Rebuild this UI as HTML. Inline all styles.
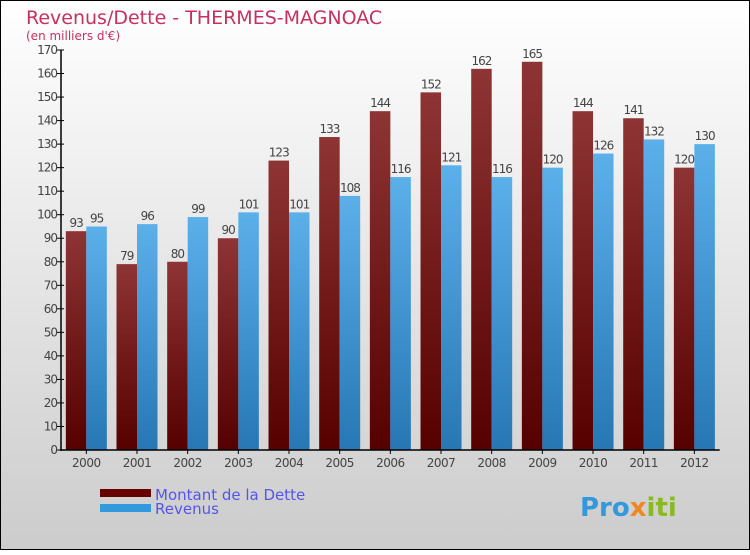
<!DOCTYPE html>
<html><head><meta charset="utf-8"><style>
body{margin:0}
svg text{font-family:"DejaVu Sans","Liberation Sans",sans-serif}
</style></head><body>
<svg id="c" width="750" height="550" xmlns="http://www.w3.org/2000/svg">
<defs>
<linearGradient id="bg" x1="0" y1="0" x2="0" y2="1"><stop offset="0" stop-color="#ffffff"/><stop offset="1" stop-color="#cccccc"/></linearGradient>
<linearGradient id="gd" x1="0" y1="0" x2="0" y2="1"><stop offset="0" stop-color="#8e3434"/><stop offset="1" stop-color="#560000"/></linearGradient>
<linearGradient id="gr" x1="0" y1="0" x2="0" y2="1"><stop offset="0" stop-color="#5cb0ea"/><stop offset="1" stop-color="#2677b4"/></linearGradient>
</defs>
<rect x="0.5" y="0.5" width="749" height="549" fill="url(#bg)" stroke="#000"/>
<text x="26" y="24" font-size="19" fill="#c8305f">Revenus/Dette - THERMES-MAGNOAC</text>
<text x="26" y="40" font-size="12" fill="#c8305f">(en milliers d'€)</text>
<g id="plot"></g>
<rect x="100" y="489" width="51" height="8" fill="#660000"/>
<rect x="100" y="504" width="51" height="8" fill="#3399dd"/>
<text x="155" y="500" font-size="15" fill="#5555ee">Montant de la Dette</text>
<text x="155" y="514" font-size="15" fill="#5555ee">Revenus</text>
<text x="580" y="516" font-size="26" font-weight="bold" fill="#3399dd">Pro<tspan fill="#ee8822">x</tspan><tspan fill="#88bb22">iti</tspan></text>
</svg>
<script>
const categories=["2000","2001","2002","2003","2004","2005","2006","2007","2008","2009","2010","2011","2012"];
const dette=[93,79,80,90,123,133,144,152,162,165,144,141,120];
const revenus=[95,96,99,101,101,108,116,121,116,120,126,132,130];
const yTicks=[0,10,20,30,40,50,60,70,80,90,100,110,120,130,140,150,160,170];
const NS="http://www.w3.org/2000/svg";
const g=document.getElementById('plot');
const x0=61,step=50.67,y0=450,yMax=170,yTop=50;
const y=v=>y0-(v/yMax)*(y0-yTop);
const cx=i=>x0+step*(i+0.5);
function mk(t,a){const e=document.createElementNS(NS,t);for(const k in a)e.setAttribute(k,a[k]);g.appendChild(e);return e;}
yTicks.forEach(v=>{
 const l=mk('line',{x1:x0-4,x2:x0+3,y1:y(v),y2:y(v),stroke:'#000'});
 
 
 const t=mk('text',{x:x0-4,y:y(v)+4,'text-anchor':'end','font-size':12,fill:'#444','letter-spacing':'-1'});
 t.textContent=v;
 
 
});
categories.forEach((c,i)=>{
 const bw=20.5;
 [[dette[i],'url(#gd)',cx(i)-bw,'bar-dette'],[revenus[i],'url(#gr)',cx(i),'bar-revenus']].forEach(([v,f,bx,n])=>{
  const r=mk('rect',{x:bx,y:y(v),width:bw,height:y0-y(v),fill:f});
  
  
  const t=mk('text',{x:bx+bw/2,y:y(v)-4,'text-anchor':'middle','font-size':12,fill:'#444','letter-spacing':'-1'});
  t.textContent=v;
  
  
 });
 const tk=mk('line',{x1:cx(i),x2:cx(i),y1:y0,y2:y0+4,stroke:'#000'});
 
 
 const t=mk('text',{x:cx(i),y:y0+17,'text-anchor':'middle','font-size':12,fill:'#444','letter-spacing':'-0.5'});
 t.textContent=c;
 
 
});
const ya=mk('line',{x1:x0,x2:x0,y1:yTop,y2:y0+1,stroke:'#000','stroke-width':1.5});


const xa=mk('line',{x1:x0,x2:x0+step*categories.length,y1:y0,y2:y0,stroke:'#000','stroke-width':1.5});


</script>
</body></html>
